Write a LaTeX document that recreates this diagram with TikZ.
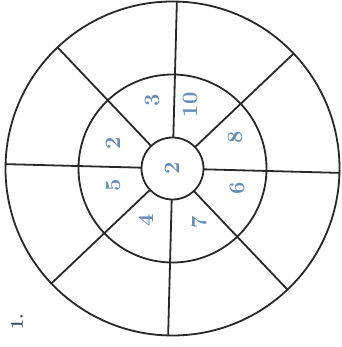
\documentclass[tikz,border=0pt]{standalone}
\usepackage{tikz}
\usetikzlibrary{calc}
\definecolor{digitblue}{RGB}{100,140,185}
\definecolor{linegray}{RGB}{40,40,40}
\begin{document}
\begin{tikzpicture}[x=1pt,y=-1pt,
  ring/.style={draw=linegray,line width=1.8pt},
  spoke/.style={draw=linegray,line width=1.8pt},
  num/.style={text=digitblue,font=\fontsize{22}{22}\selectfont\bfseries,rotate=90,inner sep=0pt}]
\useasboundingbox (0,0) rectangle (341,347);
\coordinate (c) at (172.5,168.5);
% spokes
\foreach \a in {0,45,...,315}{
  \draw[spoke] ($(c)+({\a+1.5}:31)$) -- ($(c)+({\a+1.5}:167)$);
}
\draw[ring] (c) circle[radius=167];
\draw[ring] (c) circle[radius=94];
\draw[ring] (c) circle[radius=31];
% labels
\node[num] (n3) at (152,100) {3};
\node[num] (n10) at (190,105) {10};
\node[num] (n8) at (235,137) {8};
\node[num] (n6) at (237,188) {6};
\node[num] (n7) at (199,222) {7};
\node[num] (n4) at (146,220) {4};
\node[num] (n5) at (113,185) {5};
\node[num] (n2a) at (113,143) {2};
\node[num] (n2c) at (172,168) {2};
\node[text=linegray!60!digitblue,font=\fontsize{18}{18}\selectfont\bfseries,rotate=90,inner sep=0pt] (one) at (17,322) {1.};
\end{tikzpicture}
\end{document}
